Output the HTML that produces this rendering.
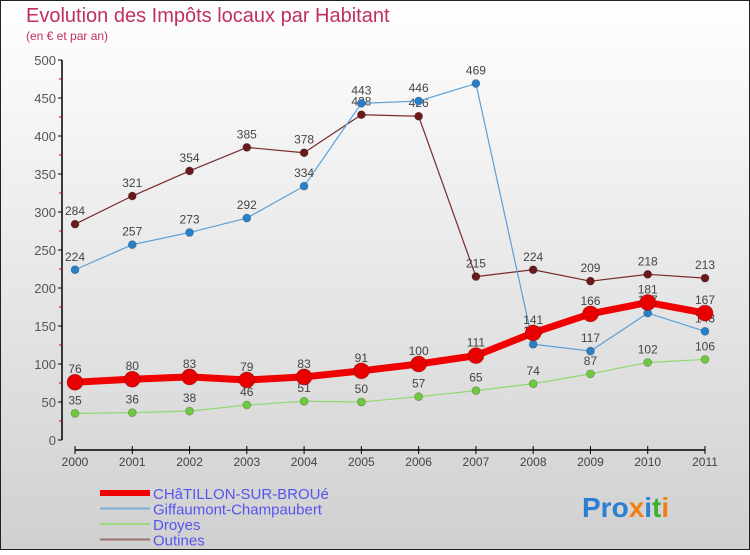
<!DOCTYPE html>
<html><head><meta charset="utf-8"><style>
html,body{margin:0;padding:0}
body{width:750px;height:550px;overflow:hidden;font-family:"Liberation Sans",sans-serif}
</style></head><body>
<svg width="750" height="550" xmlns="http://www.w3.org/2000/svg">
<defs><linearGradient id="bg" x1="0" y1="0" x2="0" y2="1"><stop offset="0" stop-color="#ffffff"/><stop offset="1" stop-color="#d0d0d0"/></linearGradient></defs>
<rect x="0" y="0" width="750" height="550" fill="url(#bg)"/>
<rect x="0.5" y="0.5" width="749" height="549" fill="none" stroke="#222"/>
<text x="26" y="22" font-size="20" fill="#c0305a">Evolution des Impôts locaux par Habitant</text>
<text x="26" y="40" font-size="12" fill="#c0305a">(en € et par an)</text>
<g id="axes"></g>
<g id="series"></g>
<g id="legend"></g>
<text x="582" y="517" font-size="28" font-weight="bold"><tspan fill="#2a7fd0">Pro</tspan><tspan fill="#f08010">x</tspan><tspan fill="#2a7fd0">i</tspan><tspan fill="#40b030">t</tspan><tspan fill="#f08010">i</tspan></text>
</svg>
<script>
const years=[2000,2001,2002,2003,2004,2005,2006,2007,2008,2009,2010,2011];
const chatillon=[76,80,83,79,83,91,100,111,141,166,181,167];
const giffaumont=[224,257,273,292,334,443,446,469,126,117,167,143];
const droyes=[35,36,38,46,51,50,57,65,74,87,102,106];
const outines=[284,321,354,385,378,428,426,215,224,209,218,213];
const yTicks=[0,50,100,150,200,250,300,350,400,450,500];
const NS="http://www.w3.org/2000/svg";
const X=i=>75+i*(630/11);
const Y=v=>440-v*0.76;
function mk(tag,attrs,parent){const e=document.createElementNS(NS,tag);for(const k in attrs)e.setAttribute(k,attrs[k]);parent.appendChild(e);return e;}
const ax=document.getElementById('axes');
let yl=mk('line',{x1:62,y1:Y(500),x2:62,y2:440,stroke:'#000','stroke-width':1.5},ax);


yTicks.forEach(v=>{
  let t=mk('line',{x1:58,y1:Y(v),x2:62,y2:Y(v),stroke:'#000'},ax);
  
  
  if(v<500){let m=mk('line',{x1:59,y1:Y(v+25),x2:62,y2:Y(v+25),stroke:'#d00'},ax);
  
  }
  let l=mk('text',{x:56,y:Y(v)+5,'font-size':13,fill:'#555','text-anchor':'end'},ax);
  l.textContent=v;
  
  
});
let xl=mk('line',{x1:X(0),y1:450,x2:X(11),y2:450,stroke:'#000','stroke-width':1.5},ax);


years.forEach((yr,i)=>{
  let t=mk('line',{x1:X(i),y1:446,x2:X(i),y2:454,stroke:'#000'},ax);
  
  
  let l=mk('text',{x:X(i),y:466,'font-size':12,fill:'#444','text-anchor':'middle'},ax);
  l.textContent=yr;
  
  
});
const sg=document.getElementById('series');
function series(name,vals,color,dot,width,r){
  const g=mk('g',{},sg);
  
  
  const p=mk('polyline',{points:vals.map((v,i)=>X(i)+','+Y(v)).join(' '),fill:'none',stroke:color,'stroke-width':width,'stroke-linejoin':'round'},g);
  
  
  vals.forEach((v,i)=>{
    const c=mk('circle',{cx:X(i),cy:Y(v),r:r,fill:dot,stroke:'rgba(0,0,0,0.25)','stroke-width':0.8},g);
    
    
    const t=mk('text',{x:X(i),y:Y(v)-9,'font-size':12,fill:'#444','text-anchor':'middle'},g);
    t.textContent=v;
    
    
  });
}
series('outines',outines,'#7a2a2a','#6a1a1a',1.2,4);
series('giffaumont',giffaumont,'#5aa0d8','#2a80c8',1.2,4);
series('droyes',droyes,'#90d870','#70c840',1.2,4);
series('chatillon',chatillon,'#f00000','#e80000',7,8);
const lg=document.getElementById('legend');
const items=[['CHâTILLON-SUR-BROUé','#f00000',6],['Giffaumont-Champaubert','#7aaed8',2],['Droyes','#a0d880',2],['Outines','#9a7070',2]];
items.forEach((it,k)=>{
  const y=493+k*15.5;
  const l=mk('line',{x1:100,y1:y,x2:150,y2:y,stroke:it[1],'stroke-width':it[2]},lg);
  
  
  const t=mk('text',{x:153,y:y+6,'font-size':15,fill:'#5555ee'},lg);
  t.textContent=it[0];
  
  
});
</script>
</body></html>
